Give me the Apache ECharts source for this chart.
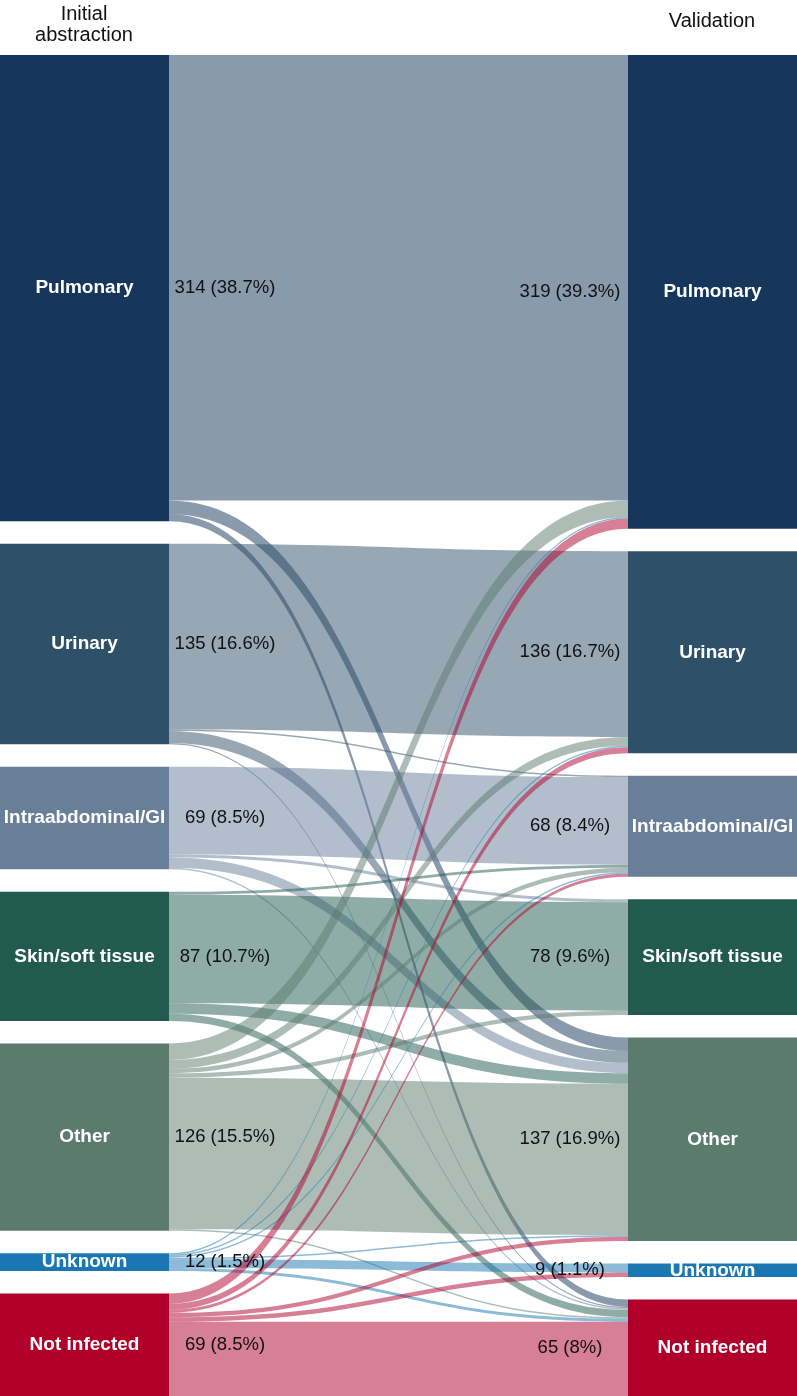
<!DOCTYPE html>
<html><head><meta charset="utf-8">
<script src="https://cdn.jsdelivr.net/npm/echarts@6/dist/echarts.min.js"></script>
<style>html,body{margin:0;padding:0;background:#fff}#chart{width:797px;height:1396px}</style>
</head><body><div id="chart"></div>
<script>
// Categories (same for both stages)
const categories = ['Pulmonary', 'Urinary', 'Intraabdominal/GI', 'Skin/soft tissue', 'Other', 'Unknown', 'Not infected'];
const stageTitles = ['Initial\nabstraction', 'Validation'];

// Flows from each initial-abstraction category to validation categories (same order as categories)
const fromPulmonary      = [300,   0,  0,  0,   9, 0,  5];
const fromUrinary        = [  0, 125,  1,  0,   8, 0,  1];
const fromIntraabdominal = [  0,   0, 59,  2,   7, 0,  1];
const fromSkin           = [  0,   0,  2, 73,   7, 0,  5];
const fromOther          = [ 11,   6,  3,  3, 102, 0,  1];
const fromUnknown        = [  1,   1,  1,  0,   1, 6,  2];
const fromNotInfected    = [  7,   4,  2,  0,   3, 3, 50];

const flowRows = [fromPulmonary, fromUrinary, fromIntraabdominal, fromSkin, fromOther, fromUnknown, fromNotInfected];
const nodeColors = ['#16365c', '#2f5069', '#687e99', '#225a4f', '#5b7b6e', '#1a77b2', '#b0002a'];

const FONT = '"Liberation Sans", Arial, Helvetica, sans-serif';
let total = 0;
flowRows.forEach(r => r.forEach(v => total += v));

function pct(v) { return String(Math.round(v / total * 1000) / 10); }

const nodes = [];
categories.forEach((c, i) => nodes.push({ name: 'L|' + c, depth: 0, itemStyle: { color: nodeColors[i] } }));
categories.forEach((c, i) => nodes.push({ name: 'R|' + c, depth: 1, itemStyle: { color: nodeColors[i] } }));

const links = [];
flowRows.forEach((row, i) => row.forEach((v, j) => {
  if (v > 0) links.push({ source: 'L|' + categories[i], target: 'R|' + categories[j], value: v });
}));

const common = {
  type: 'sankey',
  left: 0, right: 0, top: 55, bottom: 0,
  nodeWidth: 169, nodeGap: 22.5,
  layoutIterations: 0,
  draggable: false,
  emphasis: { disabled: true },
  links: links
};

const valueNodes = nodes.map(n => {
  const isLeft = n.depth === 0;
  return {
    name: n.name, depth: n.depth,
    itemStyle: { color: 'rgba(0,0,0,0)', borderWidth: 0 },
    label: {
      position: isLeft ? 'right' : 'left',
      distance: isLeft ? 56 : 58,
      align: 'center'
    }
  };
});

const chart = echarts.init(document.getElementById('chart'), null, { renderer: 'canvas' });
chart.setOption({
  animation: false,
  backgroundColor: '#ffffff',
  title: [
    { text: stageTitles[0], left: 84, top: 4, padding: 0, textAlign: 'center',
      textStyle: { fontFamily: FONT, fontSize: 20, fontWeight: 'normal', color: '#111', lineHeight: 21 } },
    { text: stageTitles[1], left: 712, top: 11, padding: 0, textAlign: 'center',
      textStyle: { fontFamily: FONT, fontSize: 20, fontWeight: 'normal', color: '#111', lineHeight: 21 } }
  ],
  series: [
    Object.assign({}, common, {
      data: nodes,
      lineStyle: { color: 'source', opacity: 0.5, curveness: 0.5 },
      itemStyle: { borderWidth: 0 },
      label: {
        position: 'inside', color: '#ffffff', fontWeight: 'bold', fontSize: 19, fontFamily: FONT,
        formatter: p => p.name.split('|')[1]
      }
    }),
    Object.assign({}, common, {
      silent: true,
      data: valueNodes,
      lineStyle: { color: 'source', opacity: 0, curveness: 0.5 },
      label: {
        color: '#111111', fontSize: 18.5, fontFamily: FONT,
        formatter: p => p.value + ' (' + pct(p.value) + '%)'
      }
    })
  ]
});
</script></body></html>
